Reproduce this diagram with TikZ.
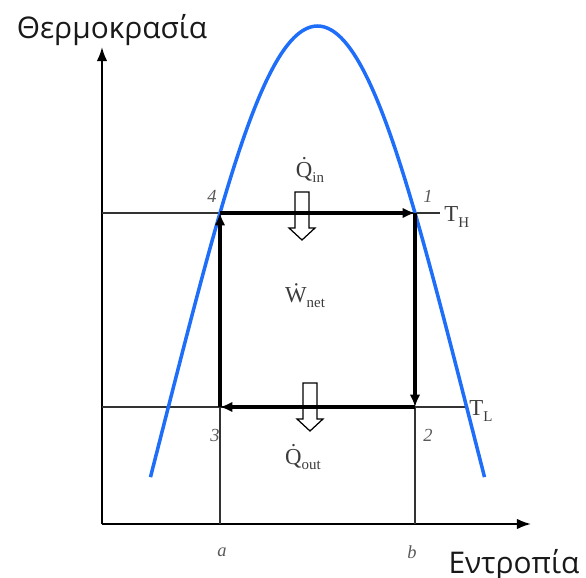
\documentclass[tikz,border=0pt]{standalone}
\usepackage{fontspec}
\setmainfont{Liberation Serif}
\newfontfamily\greekfont{Open Sans}
\usetikzlibrary{arrows.meta}
\definecolor{domeblue}{RGB}{30,110,250}
\definecolor{labelgray}{RGB}{60,60,60}

\newcommand{\lowsub}[1]{\raisebox{-0.5ex}{\fontsize{8.5}{8.5}\selectfont #1}}

\begin{document}
\begin{tikzpicture}[x=0.02cm, y=-0.02cm,
  axis/.style={-{Latex[length=8pt,width=6pt]}, line width=1.1pt},
  guide/.style={line width=0.6pt, black!80},
  process/.style={-{Latex[length=7pt,width=6pt]}, line width=2.2pt},
  dome/.style={domeblue, line width=2pt},
  qty/.style={font=\fontsize{13}{13}\selectfont, text=labelgray, inner sep=0pt},
  state/.style={font=\fontsize{10.5}{10.5}\selectfont\itshape, text=black!65, inner sep=0pt},
  axislabel/.style={font=\greekfont\fontsize{17}{17}\selectfont, text=black!90, inner sep=0pt},
  hollow/.pic={\draw[line width=0.7pt] (-7,0) -- (7,0) -- (7,36) -- (13,36) -- (0,48) -- (-13,36) -- (-7,36) -- cycle;}
]
  \useasboundingbox (0,0) rectangle (586,578);

  % axes
  \coordinate (O) at (102,524);
  \coordinate (ytip) at (102,47);
  \coordinate (xtip) at (531,524);
  \draw[axis] (O) -- (ytip);
  \draw[axis] (O) -- (xtip);
  \node[axislabel] (ylab) at (112,30) {Θερμοκρασία};
  \node[axislabel] (xlab) at (514,565) {Εντροπία};

  % cycle corners
  \coordinate (p4) at (220,213);
  \coordinate (p1) at (415,213);
  \coordinate (p2) at (415,407);
  \coordinate (p3) at (220,407);
  \coordinate (thend) at (440,213);
  \coordinate (tlend) at (465,407);
  \coordinate (thstart) at (102,213);
  \coordinate (tlstart) at (102,407);
  \coordinate (sa) at (220,524);
  \coordinate (sb) at (415,524);

  % guide lines
  \draw[guide] (thstart) -- (thend);
  \draw[guide] (tlstart) -- (tlend);
  \draw[guide] (p3) -- (sa);
  \draw[guide] (p2) -- (sb);

  % saturation dome
  \draw[dome] plot[smooth, domain=-21.24:21.24, samples=81, variable=\t]
    ({317.5+6.863*\t+1.045*(\t/10)*(\t/10)*(\t/10)*abs(\t/10)}, {26+\t*\t});

  % Carnot cycle
  \draw[process] (p4) -- (p1);
  \draw[process] (p1) -- (p2);
  \draw[process] (p2) -- (p3);
  \draw[process] (p3) -- (p4);

  % heat flows
  \pic at (302,192) {hollow};
  \pic at (310,383) {hollow};

  \node[qty] (qin) at (310,170) {\.{Q}\lowsub{in}};
  \node[qty] (wnet) at (305,296) {\.{W}\lowsub{net}};
  \node[qty] (qout) at (303,457) {\.{Q}\lowsub{out}};
  \node[qty, anchor=west] (th) at (444,217) {T\lowsub{H}};
  \node[qty, anchor=west] (tl) at (469,411) {T\lowsub{L}};

  \node[state] (s4) at (212,196) {4};
  \node[state] (s1) at (428,196) {1};
  \node[state] (s3) at (215,435) {3};
  \node[state] (s2) at (428,435) {2};
  \node[state] (la) at (222,552) {a};
  \node[state] (lb) at (412,552) {b};
\end{tikzpicture}
\end{document}
